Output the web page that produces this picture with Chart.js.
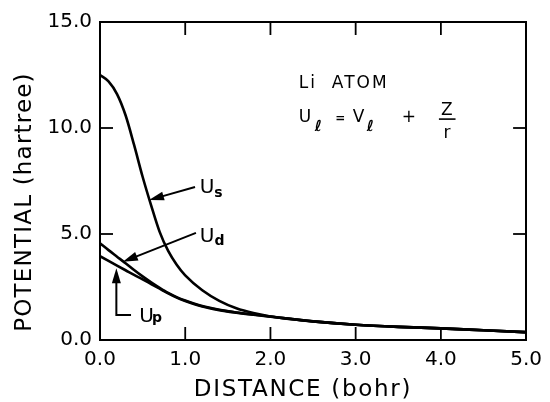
<!DOCTYPE html>
<html>
<head>
<meta charset="utf-8">
<script src="https://cdn.jsdelivr.net/npm/chart.js@4.4.1/dist/chart.umd.min.js"></script>
<style>
  html, body { margin: 0; padding: 0; background: #fff; }
  #wrap { width: 550px; height: 402px; }
</style>
</head>
<body>
<div id="wrap"><canvas id="potChart"></canvas></div>
<script>
// Li atom pseudopotentials U_l(r)
const distance = [0, 0.1, 0.2, 0.3, 0.4, 0.5, 0.6, 0.7, 0.8, 0.9, 1.0, 1.2, 1.4, 1.6, 1.8, 2.0, 2.5, 3.0, 3.5, 4.0, 4.5, 5.0];
const uS = [12.5, 12.2, 11.6, 10.6, 9.2, 7.7, 6.35, 5.1, 4.2, 3.55, 3.05, 2.35, 1.85, 1.5, 1.27, 1.11, 0.88, 0.72, 0.62, 0.55, 0.46, 0.37];
const uD = [4.56, 4.24, 3.93, 3.62, 3.3, 3.0, 2.72, 2.46, 2.22, 2.02, 1.86, 1.6, 1.43, 1.3, 1.2, 1.11, 0.88, 0.72, 0.62, 0.55, 0.46, 0.37];
const uP = [3.95, 3.73, 3.51, 3.29, 3.07, 2.86, 2.64, 2.42, 2.2, 2.0, 1.84, 1.58, 1.41, 1.29, 1.19, 1.1, 0.88, 0.72, 0.62, 0.55, 0.46, 0.37];
const xTicks = [0, 1, 2, 3, 4, 5];
const yTicks = [0, 5, 10, 15];

const FONT = "'DejaVu Sans', sans-serif";
const toPoints = arr => arr.map((v, i) => ({ x: distance[i], y: v }));

function curve(label, values) {
    return {
        label: label,
        data: toPoints(values),
        borderColor: '#000',
        borderWidth: 2.6,
        pointRadius: 0,
        fill: false,
        cubicInterpolationMode: 'monotone'
    };
}

// inward ticks, axis titles and the hand-lettered annotations
const overlay = {
    id: 'overlay',
    afterDraw(chart) {
        const { ctx, chartArea: a, scales: { x, y } } = chart;
        const px = v => x.getPixelForValue(v);
        const py = v => y.getPixelForValue(v);
        ctx.save();
        ctx.strokeStyle = '#000';
        ctx.fillStyle = '#000';
        ctx.lineCap = 'butt';

        const line = (x1, y1, x2, y2) => {
            ctx.beginPath(); ctx.moveTo(x1, y1); ctx.lineTo(x2, y2); ctx.stroke();
        };

        // tick marks pointing into the plot, on all four sides
        ctx.lineWidth = 1.8;
        xTicks.slice(1, -1).forEach(v => {
            line(px(v), a.bottom, px(v), a.bottom - 13);
            line(px(v), a.top, px(v), a.top + 13);
        });
        yTicks.slice(1, -1).forEach(v => {
            line(a.left, py(v), a.left + 13, py(v));
            line(a.right, py(v), a.right - 13, py(v));
        });

        // axis titles
        ctx.font = '23px ' + FONT;
        ctx.textAlign = 'center';
        ctx.textBaseline = 'middle';
        ctx.save();
        ctx.letterSpacing = '1.7px';
        ctx.fillText('DISTANCE (bohr)', 303, 390);
        ctx.restore();
        ctx.save();
        ctx.translate(25, 202);
        ctx.rotate(-Math.PI / 2);
        ctx.letterSpacing = '1.2px';
        ctx.fillText('POTENTIAL (hartree)', 0, 0);
        ctx.restore();

        // arrows
        const arrow = (x1, y1, x2, y2) => {
            const X1 = px(x1), Y1 = py(y1), X2 = px(x2), Y2 = py(y2);
            const ang = Math.atan2(Y2 - Y1, X2 - X1);
            ctx.lineWidth = 2;
            line(X1, Y1, X2 - 8 * Math.cos(ang), Y2 - 8 * Math.sin(ang));
            ctx.beginPath();
            ctx.moveTo(X2, Y2);
            ctx.lineTo(X2 - 15 * Math.cos(ang) + 4.5 * Math.sin(ang), Y2 - 15 * Math.sin(ang) - 4.5 * Math.cos(ang));
            ctx.lineTo(X2 - 15 * Math.cos(ang) - 4.5 * Math.sin(ang), Y2 - 15 * Math.sin(ang) + 4.5 * Math.cos(ang));
            ctx.closePath();
            ctx.fill();
        };
        arrow(1.115, 7.22, 0.575, 6.6);   // U_s
        arrow(1.126, 5.05, 0.268, 3.69);  // U_d
        // U_p: elbow leader
        ctx.lineWidth = 2;
        ctx.beginPath();
        ctx.moveTo(px(0.364), py(1.18));
        ctx.lineTo(px(0.192), py(1.18));
        ctx.lineTo(px(0.192), py(2.7));
        ctx.stroke();
        arrow(0.192, 2.7, 0.192, 3.38);

        // curve labels
        ctx.textAlign = 'left';
        ctx.textBaseline = 'alphabetic';
        const label = (sub, xd, yd, sxd, syd) => {
            ctx.font = '20px ' + FONT;
            ctx.fillText('U', px(xd), py(yd));
            ctx.font = 'bold 14px ' + FONT;
            ctx.fillText(sub, px(sxd), py(syd));
        };
        label('s', 1.17, 6.93, 1.34, 6.75);
        label('d', 1.17, 4.62, 1.344, 4.48);
        label('p', 0.46, 0.86, 0.609, 0.85);

        // Li ATOM and the definition of U_l
        ctx.save();
        ctx.font = '17px ' + FONT;
        ctx.letterSpacing = '2px';
        ctx.fillText('Li  ATOM', px(2.333), py(11.89));
        ctx.restore();
        ctx.font = '17px ' + FONT;
        ctx.fillText('U', px(2.333), py(10.28));
        ctx.fillText('V', px(2.966), py(10.28));
        ctx.fillText('+', px(3.54), py(10.28));
        ctx.fillText('Z', px(4.0), py(10.61));
        ctx.fillText('r', px(4.03), py(9.53));
        ctx.font = 'bold italic 15px ' + FONT;
        ctx.fillText('\u2113', px(2.52), py(9.86));
        ctx.fillText('\u2113', px(3.13), py(9.86));
        ctx.font = 'bold 12px ' + FONT;
        ctx.fillText('=', px(2.76), py(10.3));
        ctx.lineWidth = 1.6;
        line(px(3.977), py(10.42), px(4.172), py(10.42));

        ctx.restore();
    }
};

const hiddenAxis = (position) => ({
    type: 'linear',
    position: position,
    min: 0,
    max: position === 'top' ? 5 : 15,
    ticks: { display: false },
    grid: { drawOnChartArea: false, drawTicks: false },
    border: { display: true, color: '#000', width: 2 },
    afterFit: s => { if (position === 'top') s.height = 0; else s.width = 0; }
});

new Chart(document.getElementById('potChart'), {
    type: 'line',
    data: {
        datasets: [curve('U_s', uS), curve('U_d', uD), curve('U_p', uP)]
    },
    options: {
        responsive: true,
        maintainAspectRatio: false,
        animation: false,
        layout: { padding: { top: 22, right: 15, left: 0, bottom: 0 } },
        plugins: { legend: { display: false }, tooltip: { enabled: false } },
        scales: {
            x: {
                type: 'linear',
                position: 'bottom',
                min: 0,
                max: 5,
                afterBuildTicks: s => { s.ticks = xTicks.map(v => ({ value: v })); },
                ticks: {
                    color: '#000',
                    padding: 8,
                    maxRotation: 0,
                    font: { family: FONT, size: 20 },
                    callback: v => v.toFixed(1)
                },
                grid: { drawOnChartArea: false, drawTicks: false },
                border: { display: true, color: '#000', width: 2 },
                afterFit: s => { s.height = 62; }
            },
            y: {
                type: 'linear',
                position: 'left',
                min: 0,
                max: 15,
                afterBuildTicks: s => { s.ticks = yTicks.map(v => ({ value: v })); },
                ticks: {
                    color: '#000',
                    padding: 8,
                    font: { family: FONT, size: 20 },
                    callback: v => v.toFixed(1)
                },
                grid: { drawOnChartArea: false, drawTicks: false },
                border: { display: true, color: '#000', width: 2 },
                afterFit: s => { s.width = 100; }
            },
            x2: hiddenAxis('top'),
            y2: hiddenAxis('right')
        }
    },
    plugins: [overlay]
});
</script>
</body>
</html>
